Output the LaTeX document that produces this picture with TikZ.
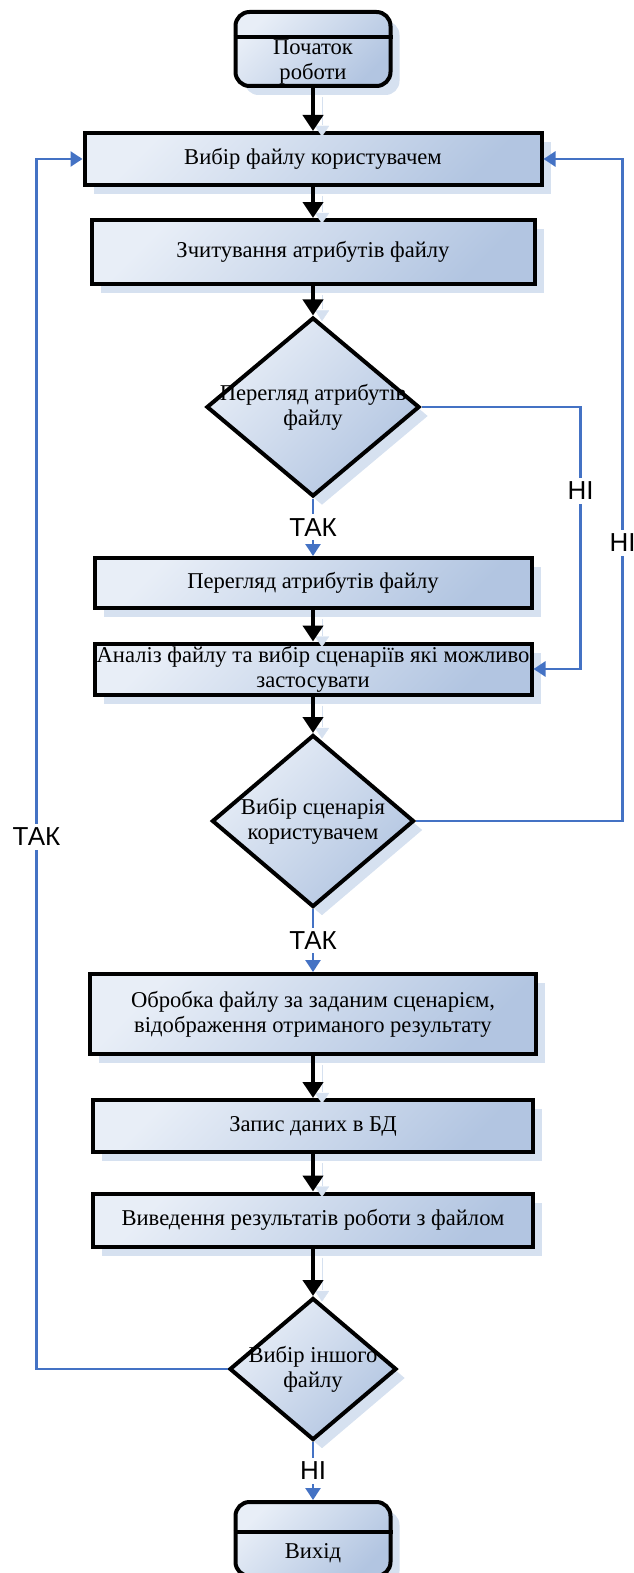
\documentclass[tikz,border=0pt]{standalone}
\usepackage{fontspec}
\setmainfont{Liberation Serif}
\newfontfamily\answerfont{Liberation Sans}
\usetikzlibrary{shapes.geometric, arrows.meta, shadows, calc}
\definecolor{boxlight}{RGB}{232, 238, 247}
\definecolor{boxdark}{RGB}{178, 197, 225}
\definecolor{shadefill}{RGB}{214, 225, 240}
\definecolor{linkblue}{RGB}{68, 114, 196}
\tikzset{
    every node/.style={font=\fontsize{22.6}{25}\selectfont},
    shaded/.style={draw=black, line width=4pt, top color=boxlight,
        bottom color=boxdark, shading angle=45,
        drop shadow={shadow xshift=9pt, shadow yshift=-9pt, fill=shadefill,
            opacity=1}},
    process/.style={shaded, rectangle, inner sep=0pt, align=center},
    decision/.style={shaded, diamond, inner sep=0pt},
    terminal/.style={shaded, rectangle, rounded corners=14pt,
        minimum width=155pt, minimum height=74pt},
    flow/.style={line width=4pt, -{Triangle[width=20pt, length=16pt]},
        preaction={draw=shadefill, transform canvas={xshift=9pt, yshift=-9pt}}},
    answer/.style={fill=white, inner sep=4pt,
        font=\answerfont\fontsize{26}{26}\selectfont},
    link/.style={draw=linkblue, line width=2.5pt,
        -{Triangle[width=15pt, length=12pt]}},
}

\begin{document}
\begin{tikzpicture}[x=1pt, y=-1pt]
        \useasboundingbox (0, 0) rectangle (634, 1573);
        \node[terminal, label={[yshift=-13pt, align=center]center:{Початок\\роботи}}]
            (start) at (313, 49) {};
        \draw[line width=4pt] ([yshift=-27pt]start.north west)
            -- ([yshift=-27pt]start.north east);
        \node[process, minimum width=457pt, minimum height=52pt] (choose)
            at (313, 159) {Вибір файлу користувачем};
        \node[process, minimum width=443pt, minimum height=64pt] (read)
            at (313, 252) {Зчитування атрибутів файлу};
        \node[decision, minimum width=213pt, minimum height=179pt,
            label={[align=center]center:{Перегляд атрибутів\\файлу}}] (view)
            at (313, 407) {};
        \node[process, minimum width=437pt, minimum height=50pt] (show)
            at (313, 583) {Перегляд атрибутів файлу};
        \node[process, minimum width=437pt, minimum height=51pt] (analyse)
            at (313, 669) {Аналіз файлу та вибір сценаріїв які можливо\\застосувати};
        \node[decision, minimum width=202pt, minimum height=172pt,
            label={[align=center]center:{Вибір сценарія\\користувачем}}] (scenario)
            at (313, 821) {};
        \node[process, minimum width=446pt, minimum height=80pt] (handle)
            at (313, 1014) {Обробка файлу за заданим сценарієм,\\відображення отриманого результату};
        \node[process, minimum width=440pt, minimum height=52pt] (save)
            at (313, 1126) {Запис даних в БД};
        \node[process, minimum width=440pt, minimum height=53pt] (output)
            at (313, 1220) {Виведення результатів роботи з файлом};
        \node[decision, minimum width=167pt, minimum height=142pt,
            label={[align=center]center:{Вибір іншого\\файлу}}] (another)
            at (313, 1369) {};
        \node[terminal, label={[yshift=-14pt]center:Вихід}] (finish)
            at (313, 1539) {};
        \draw[line width=4pt] ([yshift=-32pt]finish.north west)
            -- ([yshift=-32pt]finish.north east);
        % main flow
        \draw[flow] (start) -- (choose);
        \draw[flow] (choose) -- (read);
        \draw[flow] (read) -- (view);
        \draw[flow] (show) -- (analyse);
        \draw[flow] (analyse) -- (scenario);
        \draw[flow] (handle) -- (save);
        \draw[flow] (save) -- (output);
        \draw[flow] (output) -- (another);
        % answers
        \draw[link] (view) -- node[answer] {ТАК} (show);
        \draw[link] (scenario) -- node[answer] {ТАК} (handle);
        \draw[link] (another) -- node[answer] {НІ} (finish);
        \draw[link] (view.east) -| ($(analyse.east)+(47, 0)$)
            node[answer, pos=.66] {НІ} -- (analyse.east);
        \draw[link] (scenario.east) -| ($(choose.east)+(79, 0)$)
            node[answer, pos=.71] {НІ} -- (choose.east);
        \draw[link] (another.west) -| ($(choose.west)+(-46, 0)$)
            node[answer, pos=.72] {ТАК} -- (choose.west);
    \end{tikzpicture}
\end{document}
